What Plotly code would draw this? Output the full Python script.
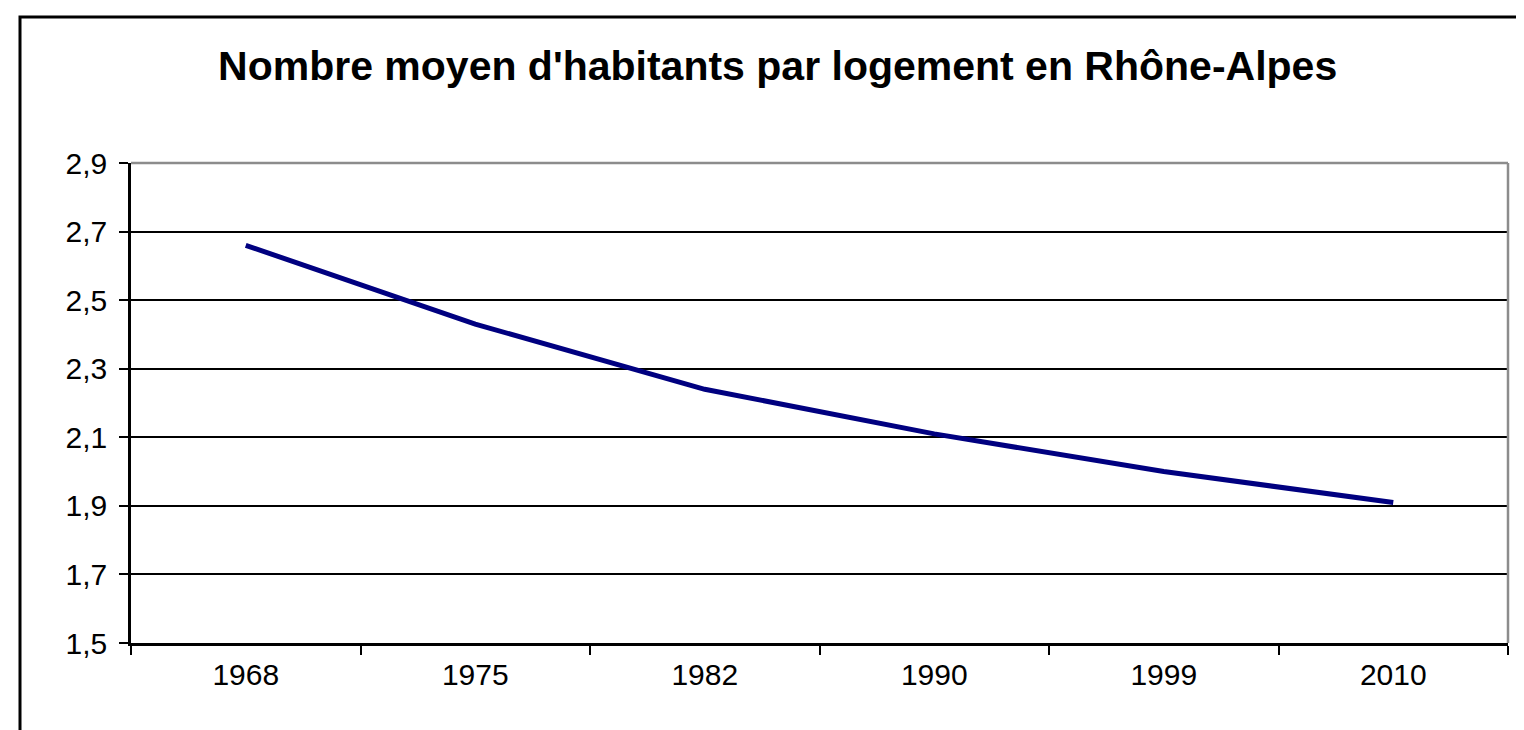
import plotly.graph_objects as go

# Données : nombre moyen d'habitants par logement en Rhône-Alpes
annees = ["1968", "1975", "1982", "1990", "1999", "2010"]
habitants_par_logement = [2.66, 2.43, 2.24, 2.11, 2.00, 1.91]
y_ticks = [1.5, 1.7, 1.9, 2.1, 2.3, 2.5, 2.7, 2.9]
y_tick_labels = ["1,5", "1,7", "1,9", "2,1", "2,3", "2,5", "2,7", "2,9"]

police = "Liberation Sans, Arial, sans-serif"

fig = go.Figure()

fig.add_trace(
    go.Scatter(
        x=annees,
        y=habitants_par_logement,
        mode="lines",
        line=dict(color="#000080", width=5),
        showlegend=False,
    )
)

fig.update_layout(
    width=1524,
    height=730,
    margin=dict(l=123, r=24, t=155, b=95),
    paper_bgcolor="white",
    plot_bgcolor="white",
    font=dict(family=police, color="black"),
    title=dict(
        text="<b>Nombre moyen d'habitants par logement en Rhône-Alpes</b>",
        font=dict(family=police, size=41, color="black"),
        x=0.505,
        xanchor="center",
        xref="container",
        y=1 - 58 / 730,
        yanchor="middle",
        yref="container",
    ),
)

fig.update_xaxes(
    type="category",
    range=[-0.5, len(annees) - 0.5],
    tickson="boundaries",
    ticks="outside",
    ticklen=9,
    tickwidth=2,
    tickcolor="black",
    showline=True,
    linecolor="black",
    linewidth=2.5,
    showgrid=False,
    tickfont=dict(size=30, color="black"),
    ticklabelstandoff=3,
)

fig.update_yaxes(
    range=[1.5, 2.9],
    tickvals=y_ticks,
    ticktext=y_tick_labels,
    ticks="outside",
    ticklen=9,
    tickwidth=2,
    tickcolor="black",
    showline=True,
    linecolor="black",
    linewidth=2.5,
    showgrid=True,
    gridcolor="black",
    gridwidth=2,
    zeroline=False,
    tickfont=dict(size=30, color="black"),
    ticklabelstandoff=6,
)

# bordure grise du haut et de droite de la zone de tracé
fig.add_shape(type="line", xref="x domain", yref="y domain",
              x0=0, x1=1, y0=1, y1=1, line=dict(color="#8c8c8c", width=2.5))
fig.add_shape(type="line", xref="x domain", yref="y domain",
              x0=1, x1=1, y0=0, y1=1, line=dict(color="#8c8c8c", width=2.5))

# cadre extérieur noir
fig.add_shape(type="rect", xref="paper", yref="paper",
              x0=(12 - 123) / 1377, x1=(1540 - 123) / 1377,
              y0=(635 - 745) / 480, y1=(635 - 9) / 480,
              line=dict(color="black", width=3))

fig.write_html("out.html")
